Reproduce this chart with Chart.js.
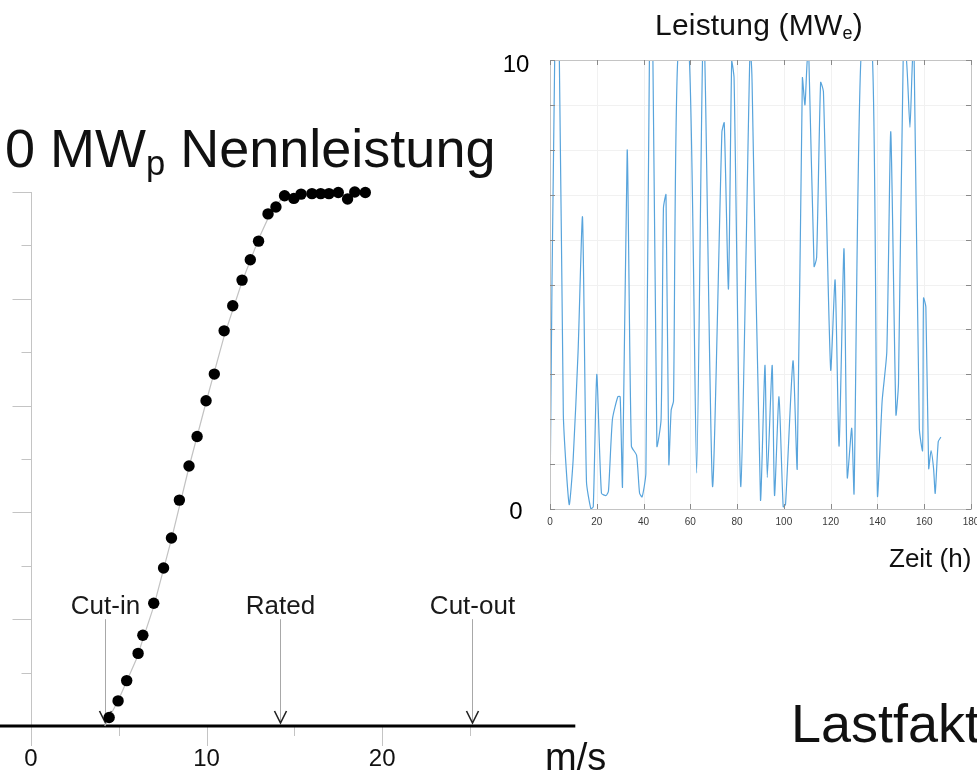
<!DOCTYPE html>
<html lang="de">
<head>
<meta charset="utf-8">
<title>Windkraft: Leistungskurve und Zeitreihe</title>
<script src="https://cdn.jsdelivr.net/npm/chart.js@4.4.1/dist/chart.umd.min.js"></script>
<style>
  html, body { margin: 0; padding: 0; background: #fff; overflow: hidden; }
  body { width: 977px; height: 780px; position: relative; font-family: "Liberation Sans", Arial, Helvetica, sans-serif; color: #111; }
  canvas { position: absolute; }
  #curveChart { left: 0; top: 0; }
  #seriesChart { left: 490px; top: 0; }
  .txt { position: absolute; white-space: nowrap; line-height: 1; }
  .txt sub { line-height: 0; }
  #title { left: 5px; top: 121px; font-size: 54px; }
  #title sub { font-size: 0.64em; vertical-align: -0.24em; }
  #seriesTitle { left: 655px; top: 10px; font-size: 30px; letter-spacing: 0.2px; }
  #seriesTitle sub { font-size: 0.6em; vertical-align: -0.2em; }
  #timeLabel { left: 889px; top: 545px; font-size: 26px; }
  #speedUnit { left: 545px; top: 738px; font-size: 38px; }
  #loadFactor { left: 791px; top: 696px; font-size: 54px; }
</style>
</head>
<body>
<canvas id="curveChart" width="581" height="780"></canvas>
<canvas id="seriesChart" width="520" height="580"></canvas>

<div class="txt" id="title">0 MW<sub>p</sub> Nennleistung</div>
<div class="txt" id="seriesTitle">Leistung (MW<sub>e</sub>)</div>
<div class="txt" id="timeLabel">Zeit (h)</div>
<div class="txt" id="speedUnit">m/s</div>
<div class="txt" id="loadFactor">Lastfakt</div>

<script>
// power curve: measured points (m/s, MW)
const windSpeed = [4.45, 4.96, 5.45, 6.1, 6.37, 6.99, 7.55, 8.0, 8.45, 9.0, 9.46, 9.97, 10.44, 11.0, 11.49,
  12.02, 12.49, 12.96, 13.5, 13.95, 14.44, 14.97, 15.38, 16.0, 16.5, 16.97, 17.5, 18.03, 18.44, 19.04];
const powerOut = [0.16, 0.47, 0.85, 1.36, 1.7, 2.3, 2.96, 3.52, 4.23, 4.87, 5.42, 6.09, 6.59, 7.4, 7.87,
  8.35, 8.73, 9.08, 9.59, 9.72, 9.93, 9.88, 9.96, 9.97, 9.97, 9.97, 9.99, 9.87, 10.0, 9.99];

// the thin grey reference curve behind the points
const curveSpeed = [4.2, 5, 6, 7, 8, 9, 10, 11, 12, 13, 13.7, 14.4, 19.2];
const curvePower = [0, 0.5, 1.25, 2.25, 3.5, 4.85, 6.1, 7.3, 8.3, 9.15, 9.65, 9.92, 9.95];

const speedTicks = [0, 5, 10, 15, 20, 25];
const speedTickLabels = ['0', '', '10', '', '20', ''];
const powerTicks = [0, 1, 2, 3, 4, 5, 6, 7, 8, 9, 10];

const markerSpeed = [4.2, 14.2, 25.1];
const markerNames = ['Cut-in', 'Rated', 'Cut-out'];

// one week of output (h, MWe)
const hours = [0, 2, 4, 5.7, 8.2, 9.9, 12, 13.9, 15.6, 17.5, 18.5, 20, 22, 24, 25, 26.7, 29, 30, 31, 33,
  34.8, 37, 38.3, 39.4, 41, 42.5, 44, 45.7, 47.5, 48.5, 49.6, 50.8, 51.8, 52.8, 54.6, 59.6, 62.7, 65.2, 66.2, 69.5,
  73.5, 74.5, 76.3, 77.7, 78.7, 81.6, 85.4, 86, 86.4, 90, 91.9, 92.9, 95, 96, 97.9, 99.7, 100.7, 103.9, 105.7, 107.9,
  109, 110, 110.7, 112.9, 114, 115.7, 116.9, 120, 121.9, 123.6, 125.7, 127.1, 129, 130, 132.9, 137.9, 140, 142, 144, 145.7,
  147.9, 149, 151, 152.4, 153.9, 155, 155.7, 157.9, 159.3, 159.7, 160.7, 161.9, 162.9, 164, 164.7, 166, 167.1];
const power = [0.1, 10, 10, 2.1, 0.1, 1.1, 3.5, 6.5, 0.6, 0.0, 0.05, 3.0, 0.35, 0.3, 0.4, 2.0, 2.5, 2.5, 0.5, 8.0,
  1.4, 1.2, 0.35, 0.27, 0.8, 10, 10, 1.4, 2.0, 6.7, 7.0, 1.0, 2.2, 2.4, 10, 10, 0.8, 10, 10, 0.5,
  8.4, 8.6, 4.9, 10, 9.6, 0.5, 10, 10, 9.5, 0.2, 3.2, 0.7, 3.2, 0.3, 2.5, 0.05, 0.1, 3.3, 0.9, 9.6,
  9.0, 10, 10, 5.4, 5.6, 9.5, 9.3, 3.1, 5.1, 1.4, 5.8, 0.7, 1.8, 0.35, 10, 10, 0.3, 2.4, 3.5, 8.4,
  2.1, 2.8, 10, 10, 8.5, 10, 10, 1.8, 1.3, 4.7, 4.5, 0.9, 1.3, 0.9, 0.35, 1.5, 1.6];

const hourTicks = [0, 20, 40, 60, 80, 100, 120, 140, 160, 180];
const mwTicks = [0, 1, 2, 3, 4, 5, 6, 7, 8, 9, 10];
const mwTickLabels = { 0: '0', 10: '10' };

const FONT = '"Liberation Sans", Arial, Helvetica, sans-serif';

// axes of the power curve, drawn from the scales
const curveAxes = {
  id: 'curveAxes',
  beforeDatasetsDraw(chart) {
    const { ctx, chartArea, scales: { x, y } } = chart;
    const y0 = y.getPixelForValue(0);
    const ax = Math.round(x.getPixelForValue(0)) + 0.5;
    ctx.save();
    ctx.strokeStyle = '#c4c4c4';
    ctx.lineWidth = 1;
    ctx.beginPath();
    ctx.moveTo(ax, y.getPixelForValue(10));
    ctx.lineTo(ax, y0);
    ctx.stroke();
    powerTicks.forEach(v => {
      const py = Math.round(y.getPixelForValue(v)) + 0.5;
      const len = v % 2 === 0 ? 19 : 10;
      ctx.beginPath();
      ctx.moveTo(ax - len, py);
      ctx.lineTo(ax, py);
      ctx.stroke();
    });
    speedTicks.forEach((s, i) => {
      const px = Math.round(x.getPixelForValue(s)) + 0.5;
      const len = speedTickLabels[i] ? 20 : 10;
      ctx.beginPath();
      ctx.moveTo(px, y0);
      ctx.lineTo(px, y0 + len);
      ctx.stroke();
    });

    // arrows for cut-in / rated / cut-out
    const top = y.getPixelForValue(2);
    ctx.font = '26px ' + FONT;
    ctx.textAlign = 'center';
    ctx.textBaseline = 'middle';
    markerSpeed.forEach((s, i) => {
      const px = Math.round(x.getPixelForValue(s)) + 0.5;
      ctx.strokeStyle = '#a8a8a8';
      ctx.lineWidth = 1;
      ctx.beginPath();
      ctx.moveTo(px, top);
      ctx.lineTo(px, y0 - 3);
      ctx.stroke();
      ctx.strokeStyle = '#222';
      ctx.lineWidth = 1.6;
      ctx.beginPath();
      ctx.moveTo(px - 6, y0 - 15);
      ctx.lineTo(px, y0 - 3);
      ctx.lineTo(px + 6, y0 - 15);
      ctx.stroke();
      ctx.fillStyle = '#1a1a1a';
      ctx.fillText(markerNames[i], px, top - 12);
    });

    ctx.strokeStyle = '#000';
    ctx.lineWidth = 3;
    ctx.beginPath();
    ctx.moveTo(0, y0);
    ctx.lineTo(chartArea.right, y0);
    ctx.stroke();

    ctx.fillStyle = '#111';
    ctx.font = '24px ' + FONT;
    speedTicks.forEach((s, i) => {
      if (speedTickLabels[i]) ctx.fillText(speedTickLabels[i], x.getPixelForValue(s), y0 + 33);
    });
    ctx.restore();
  }
};

// matlab-like frame with inward ticks for the time series
const seriesFrame = {
  id: 'seriesFrame',
  beforeDatasetsDraw(chart) {
    const { ctx, chartArea: a, scales: { x, y } } = chart;
    ctx.save();
    ctx.strokeStyle = '#f1f1f1';
    ctx.lineWidth = 1;
    hourTicks.forEach(h => {
      const px = Math.round(x.getPixelForValue(h)) + 0.5;
      ctx.beginPath(); ctx.moveTo(px, a.top); ctx.lineTo(px, a.bottom); ctx.stroke();
    });
    mwTicks.forEach(v => {
      const py = Math.round(y.getPixelForValue(v)) + 0.5;
      ctx.beginPath(); ctx.moveTo(a.left, py); ctx.lineTo(a.right, py); ctx.stroke();
    });
    ctx.restore();
  },
  afterDatasetsDraw(chart) {
    const { ctx, chartArea: a, scales: { x, y } } = chart;
    ctx.save();
    ctx.strokeStyle = '#c4c4c4';
    ctx.lineWidth = 1;
    ctx.strokeRect(Math.round(a.left) + 0.5, Math.round(a.top) + 0.5, Math.round(a.width), Math.round(a.height));
    ctx.strokeStyle = '#8a8a8a';
    hourTicks.forEach(h => {
      const px = Math.round(x.getPixelForValue(h)) + 0.5;
      ctx.beginPath();
      ctx.moveTo(px, a.bottom); ctx.lineTo(px, a.bottom - 5);
      ctx.moveTo(px, a.top); ctx.lineTo(px, a.top + 5);
      ctx.stroke();
    });
    mwTicks.forEach(v => {
      const py = Math.round(y.getPixelForValue(v)) + 0.5;
      ctx.beginPath();
      ctx.moveTo(a.left, py); ctx.lineTo(a.left + 5, py);
      ctx.moveTo(a.right, py); ctx.lineTo(a.right - 5, py);
      ctx.stroke();
    });

    ctx.fillStyle = '#3a3a3a';
    ctx.font = '10px ' + FONT;
    ctx.textAlign = 'center';
    ctx.textBaseline = 'middle';
    hourTicks.forEach(h => ctx.fillText(String(h), x.getPixelForValue(h), a.bottom + 13));

    ctx.fillStyle = '#000';
    ctx.font = '24px ' + FONT;
    mwTicks.forEach(v => {
      if (mwTickLabels[v]) ctx.fillText(mwTickLabels[v], a.left - 34, y.getPixelForValue(v) + (v ? 5 : 3));
    });
    ctx.restore();
  }
};

window.onload = function() {
  new Chart(document.getElementById('curveChart').getContext('2d'), {
    type: 'scatter',
    data: {
      datasets: [{
        type: 'line',
        data: curveSpeed.map((s, i) => ({ x: s, y: curvePower[i] })),
        borderColor: '#c2c2c2',
        borderWidth: 1.2,
        pointRadius: 0,
        fill: false,
        clip: false,
        order: 2
      }, {
        data: windSpeed.map((s, i) => ({ x: s, y: powerOut[i] })),
        backgroundColor: '#000',
        borderWidth: 0,
        pointRadius: 5.7,
        clip: false,
        order: 1
      }]
    },
    options: {
      responsive: false,
      animation: false,
      layout: { padding: { left: 31, top: 192, right: 0, bottom: 54 } },
      plugins: { legend: { display: false }, tooltip: { enabled: false } },
      scales: {
        x: { type: 'linear', min: 0, max: 31, display: false },
        y: { type: 'linear', min: 0, max: 10, display: false }
      }
    },
    plugins: [curveAxes]
  });

  new Chart(document.getElementById('seriesChart').getContext('2d'), {
    type: 'line',
    data: {
      datasets: [{
        data: hours.map((h, i) => ({ x: h, y: power[i] })),
        borderColor: '#58a4dc',
        borderWidth: 1.2,
        pointRadius: 0,
        tension: 0.2,
        fill: false
      }]
    },
    options: {
      responsive: false,
      animation: false,
      layout: { padding: { left: 60, top: 60, right: 39, bottom: 71 } },
      plugins: { legend: { display: false }, tooltip: { enabled: false } },
      scales: {
        x: { type: 'linear', min: 0, max: 180, display: false },
        y: { type: 'linear', min: 0, max: 10, display: false }
      }
    },
    plugins: [seriesFrame]
  });
};
</script>
</body>
</html>
